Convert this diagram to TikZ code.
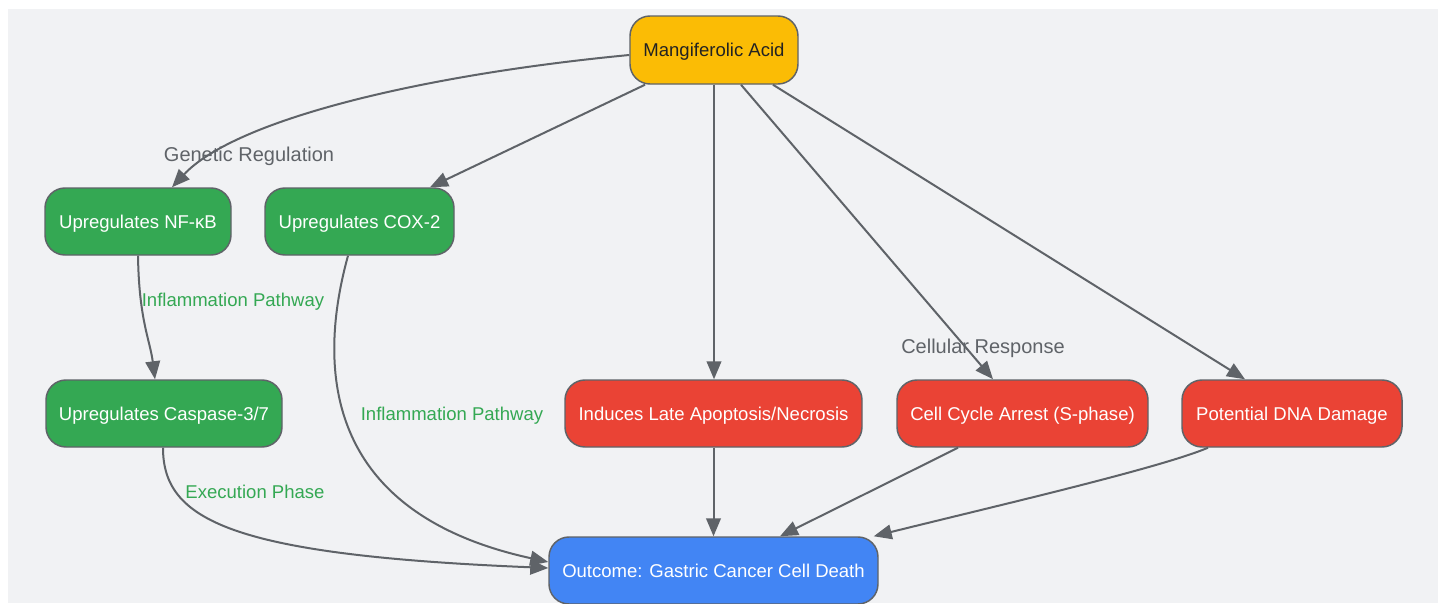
\documentclass[tikz,border=0pt]{standalone}
\usepackage{fontspec}
\setmainfont{Liberation Sans}
\usetikzlibrary{arrows.meta,calc}
\definecolor{bg}{HTML}{F1F2F4}
\definecolor{edgec}{HTML}{5F6368}
\definecolor{ngreen}{HTML}{34A853}
\definecolor{nred}{HTML}{EA4335}
\definecolor{nblue}{HTML}{4285F4}
\definecolor{nyellow}{HTML}{FBBC05}
\definecolor{darktext}{HTML}{222222}
\begin{document}
\begin{tikzpicture}[x=0.75pt,y=-0.75pt,
  box/.style={draw=edgec, line width=1.1pt, rounded corners=15pt,
    minimum height=50.25pt, inner sep=0pt, text=white,
    text height=10pt, text depth=0pt,
    font=\fontsize{13.9}{16}\selectfont},
  greenbox/.style={box, fill=ngreen},
  redbox/.style={box, fill=nred},
  bluebox/.style={box, fill=nblue},
  yellowbox/.style={box, fill=nyellow, text=darktext},
  conn/.style={draw=edgec, line width=1.5pt,
    -{Triangle[length=13.5pt,width=11pt]}},
  graylabel/.style={text=edgec, inner sep=0pt, text height=10.8pt, text depth=0pt,
    font=\fontsize{15}{18}\selectfont},
  greenlabel/.style={text=ngreen, inner sep=0pt, text height=10pt, text depth=0pt,
    font=\fontsize{13.9}{16}\selectfont}
]
\useasboundingbox (0,0) rectangle (1445,603);
\fill[bg] (8,9) rectangle (1438,603);

% nodes
\node[yellowbox, minimum width=126pt, minimum height=51pt] (ma) at (714,50) {Mangiferolic Acid};
\node[greenbox, minimum width=139.5pt] (nf) at (138,221.5) {Upregulates NF-κB};
\node[greenbox, minimum width=141.75pt] (cox) at (359.5,221.5) {Upregulates COX-2};
\node[greenbox, minimum width=177pt] (casp) at (164,413.5) {Upregulates Caspase-3/7};
\node[redbox, minimum width=222.75pt] (apo) at (713.5,413.5) {Induces Late Apoptosis/Necrosis};
\node[redbox, minimum width=188.25pt] (ccy) at (1022.5,413.5) {Cell Cycle Arrest (S-phase)};
\node[redbox, minimum width=165pt] (dna) at (1292,413.5) {Potential DNA Damage};
\node[bluebox, minimum width=246.75pt] (out) at (713.5,570.5) {Outcome: Gastric Cancer Cell Death};

% connectors
\draw[conn] ($(ma.west)+(0,5)$) .. controls (420,75) and (235,120) .. ($(nf.north)+(34,0)$);
\draw[conn] ($(ma.south)+(-69,0)$) -- ($(cox.north)+(70.5,0)$);
\draw[conn] (ma.south) -- (ma.south |- apo.north);
\draw[conn] ($(ma.south)+(27,0)$) -- ($(ccy.north)+(-29.5,0)$);
\draw[conn] ($(ma.south)+(59,0)$) -- ($(dna.north)+(-47,0)$);
\draw[conn] (nf.south) .. controls (139,320) and (150,340) .. ($(casp.north)+(-9,0)$);
\draw[conn] ($(cox.south)+(-11.5,0)$) .. controls (322,350) and (310,510) .. ($(out.west)+(0,-8.5)$);
\draw[conn] ($(casp.south)+(-1,0)$) .. controls (163,520) and (230,555) .. ($(out.west)+(0,-2.5)$);
\draw[conn] (apo.south) -- (apo.south |- out.north);
\draw[conn] ($(ccy.south)+(-64.5,0)$) -- ($(out.north)+(66.5,0)$);
\draw[conn] ($(dna.south)+(-84,0)$) .. controls (1160,468) and (1000,505) .. ($(out.north east)+(-5,0)$);

% labels
\node[graylabel] (l1) at (249,154) {Genetic Regulation};
\node[graylabel] (l2) at (983,346) {Cellular Response};
\node[greenlabel] (l3) at (233,300) {Inflammation Pathway};
\node[greenlabel] (l4) at (452,414) {Inflammation Pathway};
\node[greenlabel] (l5) at (255,492) {Execution Phase};
\end{tikzpicture}
\end{document}
